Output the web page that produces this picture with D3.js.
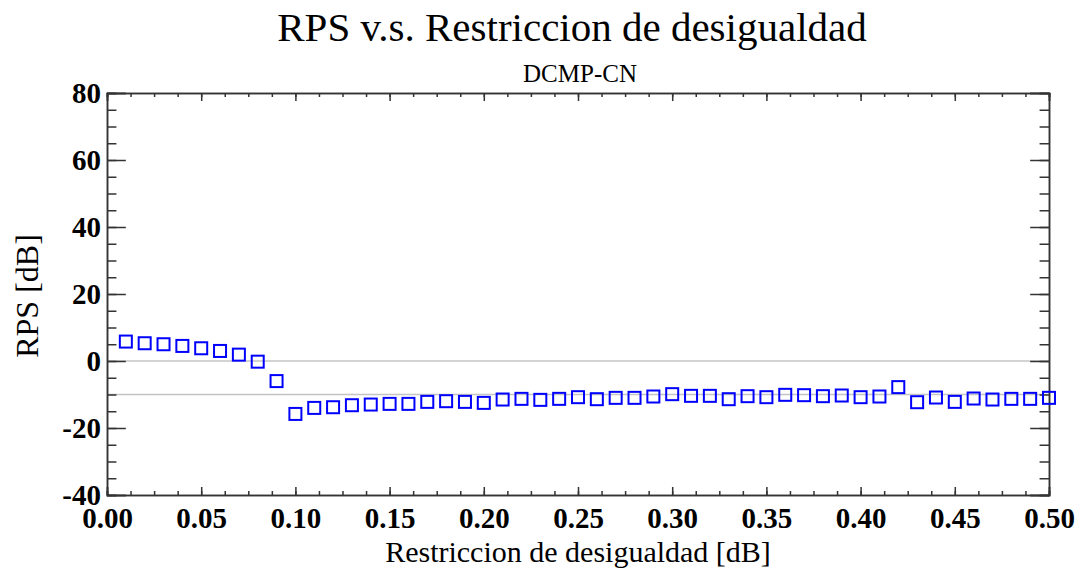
<!DOCTYPE html>
<html>
<head>
<meta charset="utf-8">
<script src="https://d3js.org/d3.v7.min.js"></script>
<style>
  body { margin: 0; background: #fff; }
  text { font-family: "Liberation Serif", serif; }
</style>
</head>
<body>
<svg id="chart" width="1089" height="569"></svg>
<script>
// restriction values (x) and RPS (y)
var restr = [0.01,0.02,0.03,0.04,0.05,0.06,0.07,0.08,0.09,0.10,
             0.11,0.12,0.13,0.14,0.15,0.16,0.17,0.18,0.19,0.20,
             0.21,0.22,0.23,0.24,0.25,0.26,0.27,0.28,0.29,0.30,
             0.31,0.32,0.33,0.34,0.35,0.36,0.37,0.38,0.39,0.40,
             0.41,0.42,0.43,0.44,0.45,0.46,0.47,0.48,0.49,0.50];
var rps = [5.8,5.3,5.0,4.5,3.8,3.0,1.9,-0.2,-6.0,-15.8,
           -14.0,-13.8,-13.2,-13.0,-12.8,-12.8,-12.2,-12.0,-12.2,-12.5,
           -11.5,-11.3,-11.6,-11.3,-10.8,-11.4,-11.0,-11.0,-10.6,-9.9,
           -10.4,-10.4,-11.4,-10.5,-10.8,-10.1,-10.2,-10.5,-10.3,-10.8,
           -10.6,-7.8,-12.3,-10.9,-12.2,-11.2,-11.5,-11.3,-11.3,-11.0];
var refLines = [0, -10];
var xTicks = [0,0.05,0.10,0.15,0.20,0.25,0.30,0.35,0.40,0.45,0.50];
var yTicks = [-40,-20,0,20,40,60,80];

var m = {left: 107, top: 93, right: 1049, bottom: 495};
var svg = d3.select("#chart");

var x = d3.scaleLinear().domain([0, 0.5]).range([m.left, m.right]);
var y = d3.scaleLinear().domain([-40, 80]).range([m.bottom, m.top]);

var W = m.right - m.left, H = m.bottom - m.top;
var xMinor = d3.range(0, 0.5001, 0.0125);
var yMinor = d3.range(-40, 80.001, 5);

// reference lines
svg.selectAll(".ref").data(refLines).enter().append("line")
  .attr("x1", m.left).attr("x2", m.right)
  .attr("y1", function(d){ return y(d); }).attr("y2", function(d){ return y(d); })
  .attr("stroke", "#c4c4c4").attr("stroke-width", 1.5);

function axis(gen, tr) {
  var g = svg.append("g").attr("transform", tr).call(gen);
  g.select(".domain").attr("stroke", "#333").attr("stroke-width", 1.5);
  g.selectAll(".tick line").attr("stroke", "#333").attr("stroke-width", 1.5);
  return g;
}
var fmtX = d3.format(".2f");
var fmtY = function(d){ return String(d); };   // plain hyphen for negatives
var tl = 0.02;
// minor ticks
axis(d3.axisBottom(x).tickValues(xMinor).tickSize(-H*tl/2).tickFormat(""), "translate(0," + m.bottom + ")");
axis(d3.axisTop(x).tickValues(xMinor).tickSize(-H*tl/2).tickFormat(""), "translate(0," + m.top + ")");
axis(d3.axisLeft(y).tickValues(yMinor).tickSize(-W*tl/2).tickFormat(""), "translate(" + m.left + ",0)");
axis(d3.axisRight(y).tickValues(yMinor).tickSize(-W*tl/2).tickFormat(""), "translate(" + m.right + ",0)");
// major ticks
var gx = axis(d3.axisBottom(x).tickValues(xTicks).tickSize(-H*tl).tickPadding(0).tickFormat(fmtX), "translate(0," + m.bottom + ")");
axis(d3.axisTop(x).tickValues(xTicks).tickSize(-H*tl).tickFormat(""), "translate(0," + m.top + ")");
var gy = axis(d3.axisLeft(y).tickValues(yTicks).tickSize(-W*tl).tickPadding(8).tickFormat(fmtY), "translate(" + m.left + ",0)");
axis(d3.axisRight(y).tickValues(yTicks).tickSize(-W*tl).tickFormat(""), "translate(" + m.right + ",0)");

gx.selectAll(".tick text").attr("font-family", "Liberation Serif").attr("font-weight", "bold")
  .attr("font-size", 29).attr("fill", "#000").attr("y", 33).attr("dy", 0);
gy.selectAll(".tick text").attr("font-family", "Liberation Serif").attr("font-weight", "bold")
  .attr("font-size", 29).attr("fill", "#000").attr("x", -6);

// points
var s = 12;
svg.append("g").selectAll("rect").data(rps).enter().append("rect")
  .attr("x", function(d, i){ return x(restr[i]) - s/2; })
  .attr("y", function(d){ return y(d) - s/2; })
  .attr("width", s).attr("height", s)
  .attr("fill", "none").attr("stroke", "#0000ff").attr("stroke-width", 2);

// titles
svg.append("text").attr("x", 572).attr("y", 41).attr("text-anchor", "middle")
  .attr("font-size", 41).text("RPS v.s. Restriccion de desigualdad");
svg.append("text").attr("x", 580).attr("y", 82).attr("text-anchor", "middle")
  .attr("font-size", 25).text("DCMP-CN");
svg.append("text").attr("x", 578).attr("y", 562).attr("text-anchor", "middle")
  .attr("font-size", 30).text("Restriccion de desigualdad [dB]");
svg.append("text").attr("transform", "translate(38,296) rotate(-90)")
  .attr("text-anchor", "middle").attr("font-size", 32).text("RPS [dB]");
</script>
</body>
</html>
